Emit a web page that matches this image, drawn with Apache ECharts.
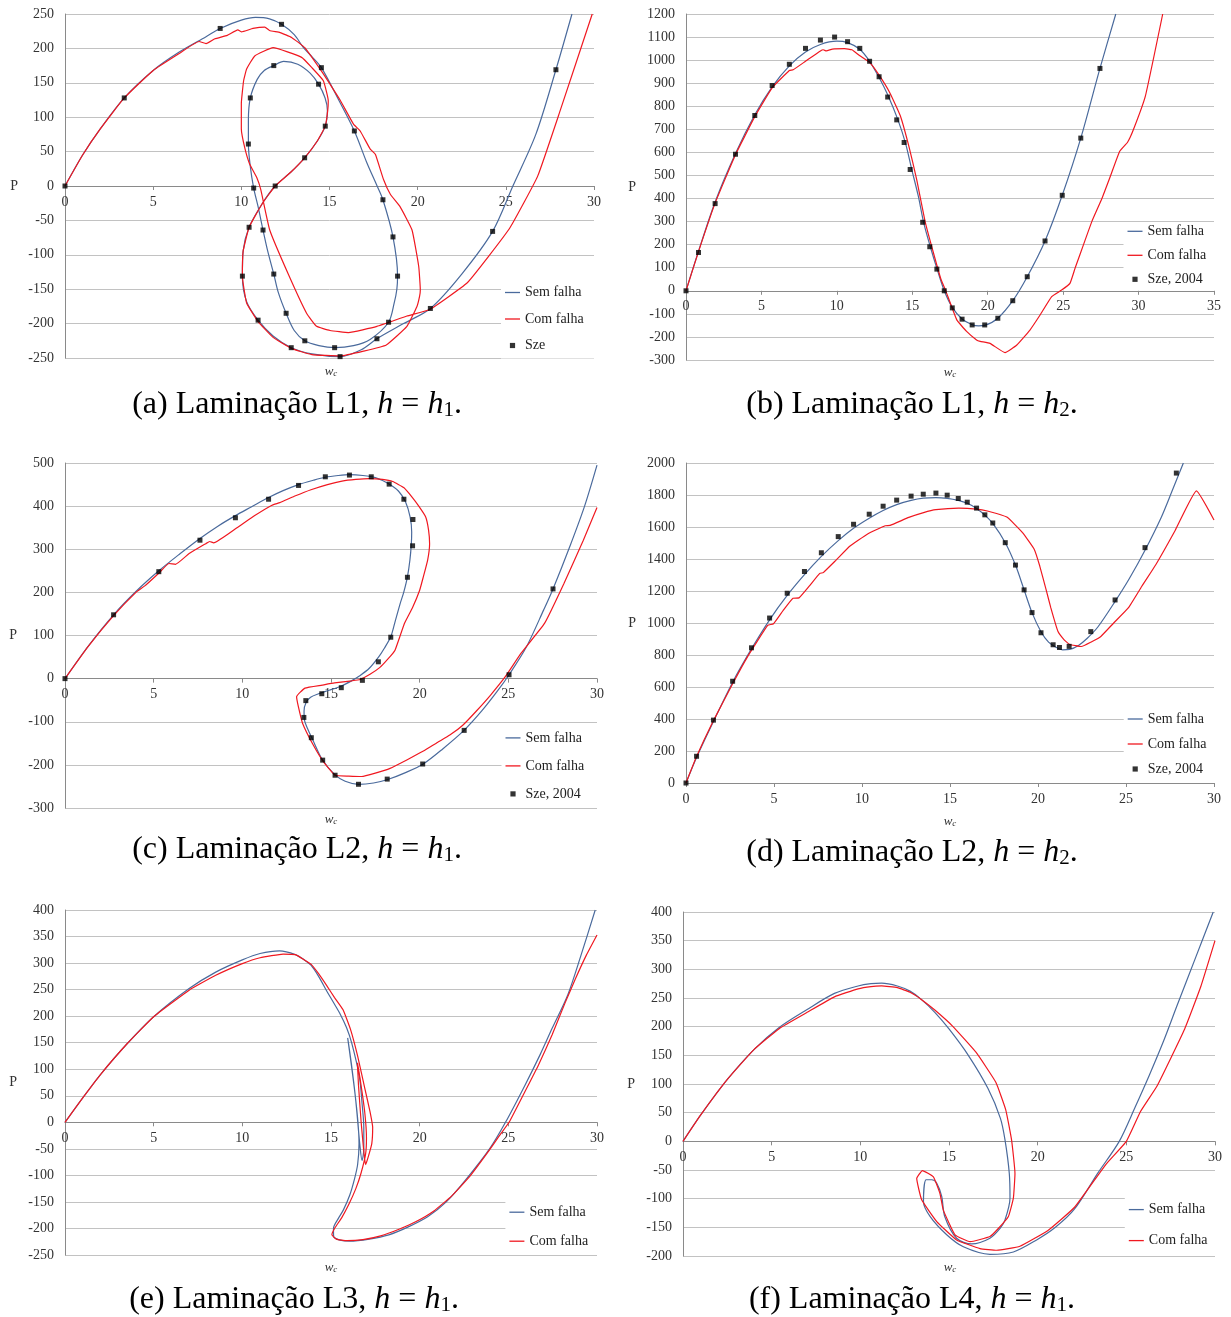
<!DOCTYPE html>
<html><head><meta charset="utf-8">
<script src="https://cdn.jsdelivr.net/npm/echarts@6/dist/echarts.min.js"></script>
<style>html,body{margin:0;padding:0;background:#fff}#c{width:1231px;height:1317px}</style>
</head><body><div id="c"></div>
<script>
// ---------- DATA (w_c, P) ----------
const aSem = [[0,0],[1,45],[2,83],[3.36,128],[5,168],[6.5,195],[8,217],[8.8,229],[10,241],[10.8,245],[11.6,243],[12.28,235],[13,220],[13.5,202],[14,188],[14.54,172],[15.5,126],[16.41,80],[17.1,35],[17.7,0],[18.03,-20],[18.6,-74],[18.86,-131],[18.82,-150],[18.67,-170],[18.35,-198],[17.3,-223],[16.36,-232],[15.3,-235],[14.4,-232],[13.6,-225],[13,-210],[12.54,-185],[12.1,-155],[11.84,-128],[11.5,-95],[11.23,-64],[10.95,-30],[10.7,-3],[10.5,30],[10.4,61],[10.4,95],[10.51,128],[10.9,155],[11.3,168],[11.84,175],[12.4,181],[13.2,177],[13.9,164],[14.38,148],[14.75,128],[14.88,110],[14.76,87],[14.3,65],[13.59,41],[12.8,20],[11.92,0],[11.2,-25],[10.44,-60],[10.1,-95],[10.06,-131],[10.3,-168],[10.95,-195],[11.8,-218],[12.83,-235],[14,-244],[15.6,-248],[16.8,-238],[17.69,-222],[19.2,-200],[20.72,-178],[22.5,-128],[24.25,-66],[25.4,0],[26.7,75],[27.84,169],[28.75,250]];
const aCom = [[0,0],[1,45],[2,83],[3.36,128],[5,168],[6.5,193],[7.6,210],[8.0,207],[8.5,214],[9.2,219],[9.8,227],[10,224],[10.66,229],[11.33,231],[11.6,226],[12.2,223],[12.85,216],[13.6,201],[14.65,163],[15.03,148],[15.6,125],[16.36,90],[16.74,80],[17.3,54],[17.6,46],[18.07,9],[18.45,-12],[19.0,-30],[19.68,-64],[20.06,-117],[20.15,-151],[20.11,-160],[19.96,-175],[19.39,-204],[18.22,-231],[16.93,-240],[15.6,-247],[14,-245],[12.83,-236],[11.8,-220],[10.95,-197],[10.3,-170],[10.06,-131],[10.1,-95],[10.44,-60],[11.2,-25],[11.92,0],[12.8,20],[13.59,41],[14.3,65],[14.76,87],[14.9,110],[14.93,124],[14.65,153],[14.0,172],[13.42,187],[11.8,201],[10.76,189],[10.3,170],[10.13,153],[10.0,120],[10.0,83],[10.2,55],[10.47,32],[10.88,12],[11.1,-5],[11.61,-64],[12.66,-128],[13.7,-185],[14.27,-204],[15.03,-210],[16.07,-213],[17.69,-204],[19.39,-189],[20.72,-179],[22.8,-141],[24,-103],[25.25,-60],[26.8,14],[28.1,111],[29.9,250]];
const aSze = [[0,0],[3.36,128],[8.8,229],[12.28,235],[14.54,172],[14.38,148],[11.84,175],[10.51,128],[16.41,80],[14.76,87],[10.4,61],[13.59,41],[11.92,0],[10.7,-3],[18.03,-20],[10.44,-60],[11.23,-64],[18.6,-74],[11.84,-128],[10.06,-131],[18.86,-131],[12.54,-185],[10.95,-195],[18.35,-198],[17.69,-222],[13.6,-225],[12.83,-235],[15.29,-235],[15.6,-248],[20.72,-178],[24.25,-66],[27.84,169]];

const bSem = [[0,0],[0.83,172],[1.93,385],[3.28,595],[4.56,763],[5.71,884],[6.85,975],[7.92,1035],[8.91,1068],[10,1082],[10.71,1076],[11.52,1047],[12.17,995],[12.8,925],[13.37,850],[14.05,741],[14.55,640],[14.95,530],[15.4,410],[15.75,297],[16.2,190],[16.65,93],[17.12,0],[17.65,-72],[18.3,-122],[18.97,-147],[19.4,-152],[19.8,-150],[20.67,-119],[21.66,-43],[22.62,61],[23.8,216],[24.94,414],[26.17,662],[27.44,964],[28.49,1200]];
const bCom = [[0,0],[0.83,170],[1.93,380],[3.28,590],[4.56,755],[5.71,880],[6.85,955],[7.1,958],[7.92,995],[8.91,1040],[9.1,1045],[9.3,1040],[9.7,1048],[10.5,1050],[11,1045],[11.5,1020],[12.17,990],[12.8,935],[13.5,860],[14.2,760],[14.8,620],[15.3,480],[15.85,300],[16.35,177],[16.9,50],[17.2,3],[17.95,-126],[18.6,-176],[19.26,-213],[19.5,-219],[20.15,-228],[21.15,-268],[21.93,-235],[22.8,-170],[23.47,-105],[24.24,-25],[24.9,3],[25.45,32],[25.8,100],[26.35,200],[26.9,300],[27.57,400],[28.15,500],[28.75,605],[29.27,644],[29.66,699],[30.45,844],[31.6,1200]];
const bSze = [[0,0],[0.83,166],[1.93,378],[3.28,592],[4.56,760],[5.71,890],[6.85,982],[7.92,1051],[8.91,1087],[9.85,1100],[10.71,1080],[11.52,1051],[12.17,995],[12.8,928],[13.37,840],[13.97,741],[14.46,643],[14.86,526],[15.69,297],[16.16,191],[16.63,94],[17.12,0],[17.65,-74],[18.3,-123],[18.97,-148],[19.8,-148],[20.67,-119],[21.66,-43],[22.62,61],[23.8,216],[24.94,414],[26.17,662],[27.44,964]];

const cSem = [[0,0],[1.3,75],[2.74,148],[4,202],[5.29,250],[6.5,290],[7.61,325],[8.6,353],[9.61,378],[10.5,398],[11.48,420],[12.3,436],[13.17,450],[14,460],[14.68,467],[15.4,471],[16.04,473],[16.8,471],[17.5,466],[18.2,453],[18.8,435],[19.2,410],[19.46,375],[19.55,340],[19.53,313],[19.45,275],[19.31,236],[19.1,200],[18.9,174],[18.6,130],[18.37,97],[18.0,70],[17.7,51],[17.16,24],[16.6,6],[16.2,-4],[15.58,-17],[14.9,-27],[14.3,-35],[13.85,-43],[13.6,-55],[13.48,-75],[13.5,-95],[13.7,-118],[13.95,-140],[14.5,-187],[15.2,-222],[15.8,-238],[16.55,-245],[17.4,-242],[18.2,-234],[19.2,-218],[20.2,-198],[21.3,-163],[22.5,-120],[23.5,-75],[24.4,-28],[25.04,9],[26,72],[27,160],[27.52,208],[28.5,310],[29.3,400],[30,495]];
const cCom = [[0,0],[1.3,74],[2.74,146],[4,200],[4.5,215],[5.3,245],[5.86,267],[6.23,265],[7,290],[7.94,313],[8.16,318],[8.38,315],[9.7,350],[10.7,378],[11.67,402],[12.11,408],[13.0,424],[13.87,438],[14.8,450],[15.62,458],[16.4,462],[17.16,464],[17.9,462],[18.48,457],[19.1,443],[19.57,421],[19.95,400],[20.34,375],[20.5,345],[20.56,313],[20.45,275],[20.2,235],[20.0,205],[19.6,165],[19.14,128],[18.61,66],[18.2,45],[17.76,26],[17.2,10],[16.64,-2],[16.17,-5],[15.2,-10],[14.5,-15],[13.53,-22],[13.06,-42],[13.16,-65],[13.4,-104],[14.0,-154],[14.58,-193],[15.23,-224],[16.0,-226],[16.73,-227],[17.5,-219],[18.33,-208],[19.3,-188],[20.21,-168],[21.0,-148],[21.7,-131],[22.43,-108],[23.2,-75],[24.0,-38],[24.84,5],[25.72,59],[27.04,128],[28.13,220],[29.23,321],[30,397]];
const cSze = [[0,0],[2.74,148],[5.29,248],[7.61,321],[9.61,373],[11.48,416],[13.17,448],[14.68,468],[16.04,472],[17.27,468],[18.28,451],[19.11,416],[19.62,369],[19.6,308],[19.31,235],[18.37,96],[17.67,39],[16.77,-4],[15.58,-21],[14.48,-35],[13.58,-51],[13.47,-90],[13.89,-137],[14.53,-189],[15.23,-224],[16.55,-245],[18.17,-233],[20.17,-198],[22.51,-120],[25.04,9],[27.52,208]];

const dSem = [[0,0],[0.6,160],[1.56,385],[2.65,630],[3.72,838],[4.75,1020],[5.75,1172],[6.73,1302],[7.69,1416],[8.65,1515],[9.52,1592],[10.41,1655],[11.2,1703],[11.97,1740],[12.79,1766],[13.48,1780],[14.2,1784],[14.84,1779],[15.47,1766],[15.98,1748],[16.51,1716],[16.98,1674],[17.43,1622],[18.14,1502],[18.72,1362],[19.21,1207],[19.66,1065],[20.17,945],[20.6,880],[21.0,850],[21.4,832],[21.8,835],[22.3,860],[22.8,905],[23.4,975],[24.38,1135],[25.2,1280],[26.08,1455],[27.0,1660],[27.6,1820],[28.26,2000]];
const dCom = [[0,0],[0.6,165],[1.56,390],[2.65,620],[3.5,790],[4.64,985],[4.97,995],[5.5,1075],[6.08,1155],[6.42,1157],[7.0,1230],[7.6,1310],[7.8,1315],[8.5,1390],[9.32,1481],[10.3,1555],[11.32,1608],[11.6,1610],[12.66,1660],[13.5,1690],[14.2,1708],[15.5,1718],[16.5,1712],[17.12,1700],[18.23,1662],[19.12,1565],[19.79,1460],[20.1,1356],[20.46,1209],[20.73,1094],[21.13,948],[21.5,893],[21.8,866],[22.46,853],[23.0,880],[23.57,916],[24.3,1000],[25.13,1094],[25.9,1230],[26.7,1366],[27.8,1580],[29.0,1826],[30,1644]];
const dSze = [[0,0],[0.6,167],[1.56,393],[2.65,636],[3.72,845],[4.75,1031],[5.75,1186],[6.73,1322],[7.69,1439],[8.65,1540],[9.52,1617],[10.41,1680],[11.2,1730],[11.97,1768],[12.79,1793],[13.48,1805],[14.2,1812],[14.84,1799],[15.47,1778],[15.98,1755],[16.51,1718],[16.98,1676],[17.43,1625],[18.14,1502],[18.72,1362],[19.21,1207],[19.66,1065],[20.17,939],[20.86,864],[21.22,847],[21.77,854],[23.0,946],[24.38,1144],[26.08,1471],[27.86,1937]];

const eSem = [[0,0],[1,46],[2,90],[3.5,148],[5,199],[7,252],[8.5,283],[10,306],[11,318],[12.1,323],[12.99,316],[13.5,306],[13.87,296],[14.3,275],[14.75,248],[15.1,228],[15.5,205],[15.88,178],[16.17,149],[16.6,86],[16.75,36],[16.85,-10],[16.85,-50],[16.75,-72],[16.62,-40],[16.4,40],[16.15,110],[15.94,159],[16.1,120],[16.35,55],[16.52,0],[16.58,-40],[16.5,-80],[16.3,-110],[16.06,-137],[15.7,-165],[15.4,-182],[15.14,-200],[15.15,-215],[15.5,-222],[16.06,-224],[17.16,-220],[18.26,-212],[19.3,-198],[20.45,-178],[21.5,-150],[22.65,-106],[23.96,-49],[24.84,0],[25.94,70],[26.8,128],[27.47,177],[28.35,240],[29.1,315],[29.9,400]];
const eCom = [[0,0],[1,46],[2,90],[3.5,148],[5,199],[7,249],[8.5,277],[10,299],[11,310],[12.3,317],[13.0,316],[13.5,306],[13.87,298],[14.3,280],[14.75,258],[15.2,235],[15.68,212],[16.1,175],[16.5,125],[16.9,65],[17.2,20],[17.35,-10],[17.3,-40],[17.1,-65],[16.95,-80],[16.85,-55],[16.7,0],[16.55,70],[16.49,112],[16.65,80],[16.9,20],[17.0,-30],[16.95,-60],[16.7,-95],[16.4,-125],[16.0,-155],[15.6,-180],[15.2,-200],[15.05,-212],[15.3,-220],[15.9,-223],[16.8,-221],[17.8,-214],[18.8,-202],[19.8,-187],[20.8,-167],[21.8,-139],[22.8,-103],[23.96,-51],[24.5,-25],[25.06,1],[25.94,58],[26.7,108],[27.47,165],[28.2,225],[28.79,271],[29.4,315],[30,353]];

const fSem = [[0,0],[1,46],[2.5,108],[4,160],[5.44,199],[7,230],[8.54,258],[9.87,271],[10.6,275],[11.2,276],[12.09,271],[12.8,262],[13.42,248],[14.2,225],[15.0,196],[16.09,150],[17.2,92],[17.9,40],[18.16,2],[18.4,-56],[18.44,-99],[18.16,-137],[17.88,-152],[17.31,-169],[16.28,-179],[15.43,-169],[14.76,-131],[14.59,-96],[14.31,-73],[14.03,-67],[13.71,-67],[13.56,-105],[13.93,-131],[14.87,-163],[15.81,-184],[17.31,-197],[18.63,-193],[19.94,-172],[21,-150],[22.08,-118],[23.4,-55],[24.6,0],[25.5,60],[26.29,115],[27.1,175],[27.85,236],[28.9,320],[29.9,400]];
const fCom = [[0,0],[1,46],[2.5,108],[4,160],[5.44,197],[7,225],[8.54,252],[9.87,266],[10.6,270],[11.2,271],[12.09,268],[12.8,260],[13.42,248],[14.2,229],[15.2,201],[16.53,155],[17.64,103],[18.2,55],[18.53,2],[18.72,-56],[18.63,-99],[18.35,-131],[17.78,-152],[17.31,-166],[16.19,-175],[15.34,-163],[14.68,-120],[14.49,-91],[14.12,-62],[13.5,-51],[13.18,-65],[13.46,-102],[14.31,-140],[15.43,-172],[16.75,-187],[17.69,-190],[19.0,-183],[20.6,-155],[22.08,-115],[23.85,-40],[25.0,0],[25.8,52],[26.74,97],[28.29,196],[29.2,270],[30,350]];

// axis ranges [min, max, interval]
const xRanges = {a:[0,30,5], b:[0,35,5], c:[0,30,5], d:[0,30,5], e:[0,30,5], f:[0,30,5]};
const yRanges = {a:[-250,250,50], b:[-300,1200,100], c:[-300,500,100], d:[0,2000,200], e:[-250,400,50], f:[-200,400,50]};
const seriesNames = ['Sem falha','Com falha'];
const captions = {
  a:'(a) Laminação L1, {i|h} = {i|h}{s|1}.', b:'(b) Laminação L1, {i|h} = {i|h}{s|2}.',
  c:'(c) Laminação L2, {i|h} = {i|h}{s|1}.', d:'(d) Laminação L2, {i|h} = {i|h}{s|2}.',
  e:'(e) Laminação L3, {i|h} = {i|h}{s|1}.', f:'(f) Laminação L4, {i|h} = {i|h}{s|1}.'
};

// ---------- LAYOUT ----------
const SERIF = "'Liberation Serif','Times New Roman',serif";
const BLUE = '#4a6a9c', RED = '#f01820';
const LINE_ICON = 'path://M0,0L15,0L15,1.3L0,1.3Z';
const SQ_ICON = 'path://M0,0M10,10M3,3L7,3L7,7L3,7Z';
const panels = [
  {k:'a', sem:aSem, com:aCom, sze:aSze, szeName:'Sze',       box:[65,14,529,344],  pGap:47, leg:[501,279.5,12.5,[6,14,6,4]],  cap:[297,405],  wc:[331,372]},
  {k:'b', sem:bSem, com:bCom, sze:bSze, szeName:'Sze, 2004', box:[686,14,528,346], pGap:50, leg:[1123.5,223.3,10,[1,14,3,4]], cap:[912,405],  wc:[950,373]},
  {k:'c', sem:cSem, com:cCom, sze:cSze, szeName:'Sze, 2004', box:[65,463,532,345], pGap:48, leg:[501.5,726.9,14,[4,14,4,4]],  cap:[297,850],  wc:[331,820]},
  {k:'d', sem:dSem, com:dCom, sze:dSze, szeName:'Sze, 2004', box:[686,463,528,320],pGap:50, leg:[1123.7,706,11,[6,14,4,4]],   cap:[912,853],  wc:[950,822]},
  {k:'e', sem:eSem, com:eCom, sze:null, szeName:null,        box:[65,910,532,345], pGap:48, leg:[505.4,1199.2,15,[6,14,2,4]], cap:[294,1300], wc:[331,1268]},
  {k:'f', sem:fSem, com:fCom, sze:null, szeName:null,        box:[683,912,532,344],pGap:48, leg:[1124.8,1197.6,17,[5,14,3,4]],cap:[912,1300], wc:[950,1268]}
];

const option = {animation:false, backgroundColor:'#fff', grid:[], xAxis:[], yAxis:[], series:[], legend:[], graphic:[]};
const labelStyle = {fontFamily:SERIF, fontSize:14, color:'#333'};
panels.forEach((p,i) => {
  const xr = xRanges[p.k], yr = yRanges[p.k];
  // x axis sits on P = 0 (shift up from the bottom of the grid)
  const zeroShift = -p.box[3] * (0 - yr[0]) / (yr[1] - yr[0]);
  option.grid.push({left:p.box[0], top:p.box[1], width:p.box[2], height:p.box[3], containLabel:false});
  option.xAxis.push({type:'value', gridIndex:i, min:xr[0], max:xr[1], interval:xr[2], position:'bottom', offset:zeroShift,
    axisLine:{show:true, onZero:false, lineStyle:{color:'#8a8a8a', width:1}},
    axisTick:{show:true, length:4, lineStyle:{color:'#8a8a8a'}},
    axisLabel:Object.assign({margin:9, formatter:v => String(v)}, labelStyle), splitLine:{show:false}});
  option.yAxis.push({type:'value', gridIndex:i, min:yr[0], max:yr[1], interval:yr[2],
    name:'P', nameLocation:'middle', nameRotate:0, nameGap:p.pGap, nameTextStyle:labelStyle,
    axisLine:{show:true, onZero:false, lineStyle:{color:'#8a8a8a', width:1}},
    axisTick:{show:false}, axisLabel:Object.assign({margin:11, formatter:v => String(v)}, labelStyle),
    splitLine:{show:true, lineStyle:{color:'#c2c2c2', width:1}}});
  option.series.push({type:'line', name:seriesNames[0], xAxisIndex:i, yAxisIndex:i, data:p.sem, symbol:'none',
    smooth:0.3, lineStyle:{color:BLUE, width:1.2}, itemStyle:{color:BLUE}, z:2});
  option.series.push({type:'line', name:seriesNames[1], xAxisIndex:i, yAxisIndex:i, data:p.com, symbol:'none',
    smooth:0.12, lineStyle:{color:RED, width:1.2}, itemStyle:{color:RED}, z:3});
  const legData = [{name:seriesNames[0], icon:LINE_ICON}, {name:seriesNames[1], icon:LINE_ICON}];
  if (p.sze) {
    option.series.push({type:'scatter', name:p.szeName, xAxisIndex:i, yAxisIndex:i, data:p.sze,
      symbol:'rect', symbolSize:5, itemStyle:{color:'#000'}, z:4});
    legData.push({name:p.szeName, icon:SQ_ICON});
  }
  option.legend.push({orient:'vertical', left:p.leg[0], top:p.leg[1], itemGap:p.leg[2], padding:p.leg[3],
    itemWidth:15, itemHeight:13, backgroundColor:'#fff', selectedMode:false, z:6,
    textStyle:{fontFamily:SERIF, fontSize:14, color:'#222', lineHeight:13}, data:legData});
  option.graphic.push({type:'text', x:p.cap[0], y:p.cap[1], z:10, style:{
    text:captions[p.k], fill:'#000', font:'32px ' + SERIF, align:'center', verticalAlign:'middle',
    rich:{i:{fontStyle:'italic', fontSize:32, fontFamily:SERIF, fill:'#000', lineHeight:32},
          s:{fontSize:21, fontFamily:SERIF, fill:'#000', verticalAlign:'bottom', lineHeight:14}}}});
  option.graphic.push({type:'text', x:p.wc[0], y:p.wc[1], z:10, style:{
    text:'{w|w}{c|c}', fill:'#333', align:'center', verticalAlign:'middle',
    rich:{w:{fontStyle:'italic', fontSize:13, fontFamily:SERIF, fill:'#333', lineHeight:13},
          c:{fontStyle:'italic', fontSize:9, fontFamily:SERIF, fill:'#333', verticalAlign:'bottom', lineHeight:7}}}});
});

const chart = echarts.init(document.getElementById('c'), null, {renderer:'canvas'});
chart.setOption(option);
</script>
</body></html>
